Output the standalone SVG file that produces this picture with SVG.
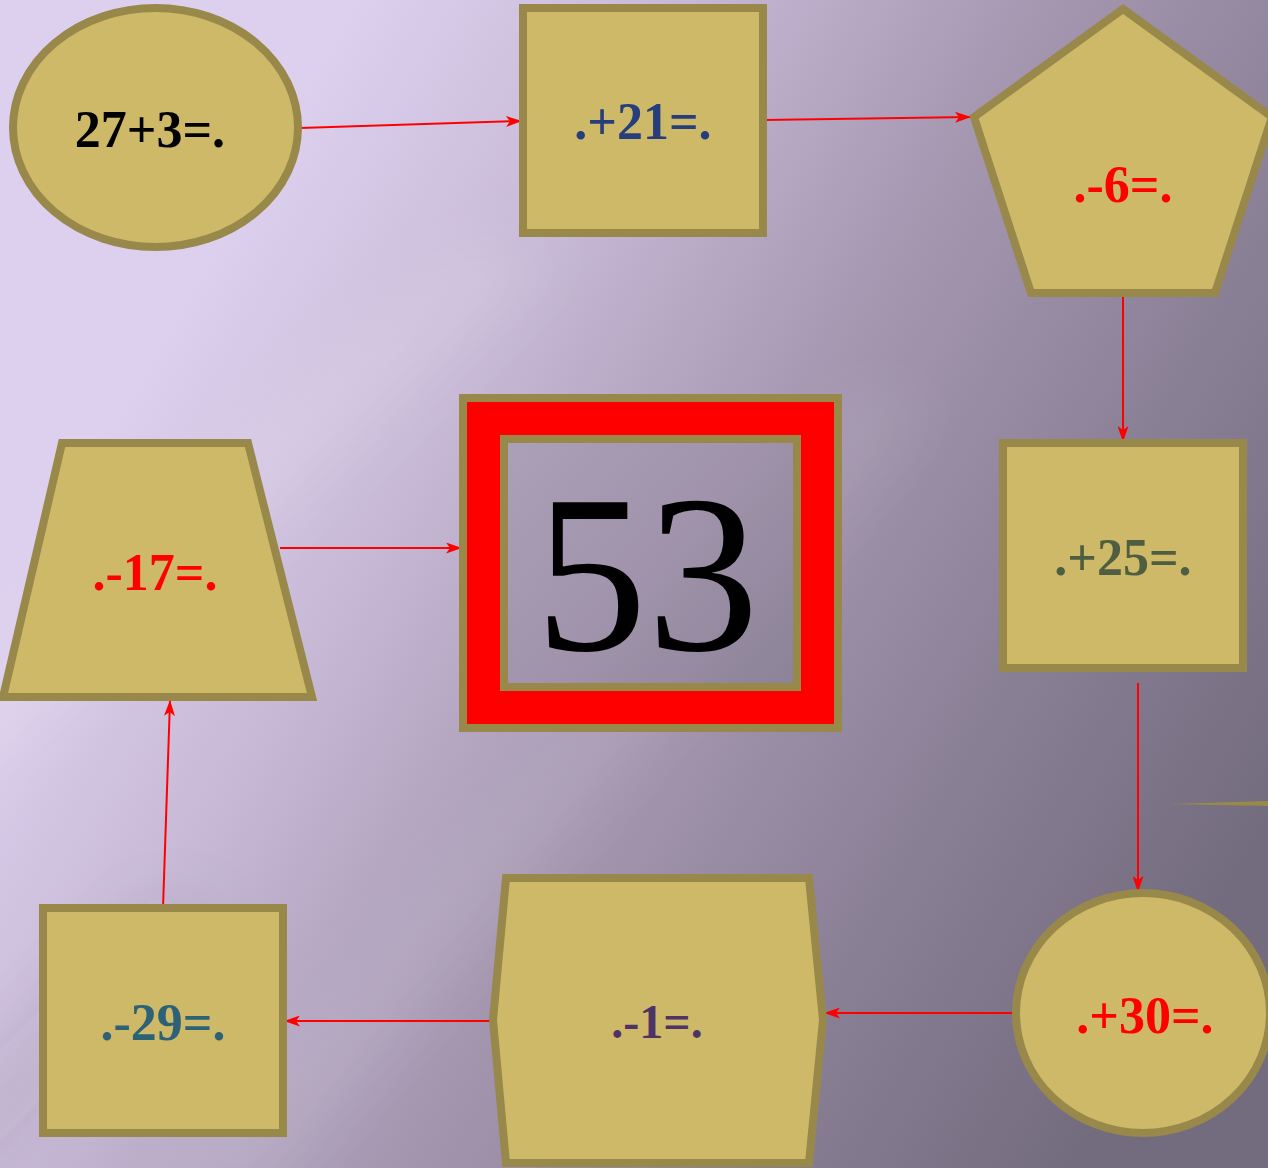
<svg xmlns="http://www.w3.org/2000/svg" width="1268" height="1168" viewBox="0 0 1268 1168">
<defs>
<linearGradient id="bg" gradientUnits="userSpaceOnUse" x1="150" y1="350" x2="1200" y2="950">
<stop offset="0" stop-color="#ddd0ee"/>
<stop offset="0.25" stop-color="#c6b8d5"/>
<stop offset="0.5" stop-color="#a597b0"/>
<stop offset="0.75" stop-color="#8a8096"/>
<stop offset="1" stop-color="#736b7e"/>
</linearGradient>
<linearGradient id="streak" x1="0" y1="0" x2="1" y2="0">
<stop offset="0" stop-color="#ffffff" stop-opacity="0"/>
<stop offset="0.5" stop-color="#ffffff" stop-opacity="0.16"/>
<stop offset="1" stop-color="#ffffff" stop-opacity="0"/>
</linearGradient>
<linearGradient id="inner" gradientUnits="userSpaceOnUse" x1="508" y1="443" x2="793" y2="683">
<stop offset="0" stop-color="#aaa0b8"/>
<stop offset="0.5" stop-color="#a093ab"/>
<stop offset="1" stop-color="#8c8398"/>
</linearGradient>
<filter id="blur" x="-20%" y="-20%" width="140%" height="140%">
<feGaussianBlur stdDeviation="30"/>
</filter>
<marker id="arr" viewBox="0 0 16 11" refX="15" refY="5.5" markerWidth="16" markerHeight="11" markerUnits="userSpaceOnUse" orient="auto">
<path d="M0,0 L16,5.5 L0,11 L4,5.5 Z" fill="#ff0000"/>
</marker>
</defs>
<style>
.shape{fill:#cdb967;stroke:#98884a;stroke-width:8}
.lbl{font-family:"Liberation Serif","Times New Roman",serif;font-weight:bold;font-size:52px;text-anchor:middle}
.conn{stroke:#ff0000;stroke-width:2;fill:none;marker-end:url(#arr)}
</style>
<rect x="0" y="0" width="1268" height="1168" fill="url(#bg)"/>
<g filter="url(#blur)">
<polygon points="-50,700 450,250 560,250 -50,820" fill="#ffffff" opacity="0.12"/>
<polygon points="150,1200 850,400 930,400 260,1200" fill="#ffffff" opacity="0.08"/>
<polygon points="-50,1100 150,900 220,900 -50,1200" fill="#3a3050" opacity="0.08"/>
</g>
<polygon points="1167,804 1268,801 1268,806" fill="#9a8a4a"/>

<g id="connectors">
<line class="conn" x1="300" y1="128" x2="521" y2="121"/>
<line class="conn" x1="764" y1="120" x2="970" y2="117"/>
<line class="conn" x1="1123" y1="297" x2="1123" y2="441"/>
<line class="conn" x1="1138" y1="683" x2="1138" y2="891"/>
<line class="conn" x1="1018" y1="1013" x2="825" y2="1013"/>
<line class="conn" x1="491" y1="1021" x2="285" y2="1021"/>
<line class="conn" x1="163" y1="908" x2="170" y2="701"/>
<line class="conn" x1="280" y1="548" x2="461" y2="548"/>
</g>

<g id="n1">
<ellipse class="shape" cx="155.5" cy="127.5" rx="142.5" ry="119.5"/>
<text class="lbl" x="150" y="147" fill="#000000">27+3=.</text>
</g>
<g id="n2">
<rect class="shape" x="523" y="8" width="240" height="225"/>
<text class="lbl" x="643" y="139" fill="#263f7c">.+21=.</text>
</g>
<g id="n3">
<polygon class="shape" points="1123,9 974,117 1031,293 1215,293 1272,117"/>
<text class="lbl" x="1123" y="202" fill="#ff0000">.-6=.</text>
</g>
<g id="n4">
<rect class="shape" x="1003" y="443" width="240" height="225"/>
<text class="lbl" x="1123" y="575" fill="#4f5e40">.+25=.</text>
</g>
<g id="n5">
<ellipse class="shape" cx="1143" cy="1013" rx="127" ry="120"/>
<text class="lbl" x="1145" y="1033" fill="#ff0000">.+30=.</text>
</g>
<g id="n6">
<polygon class="shape" points="506,878 809,878 823,1020 809,1163 506,1163 493,1020"/>
<text class="lbl" x="657" y="1038" fill="#4d3366" style="font-size:48px">.-1=.</text>
</g>
<g id="n7">
<rect class="shape" x="43" y="908" width="240" height="225"/>
<text class="lbl" x="163" y="1040" fill="#2d6276">.-29=.</text>
</g>
<g id="n8">
<polygon class="shape" points="62,443 248,443 312,697 3,697"/>
<text class="lbl" x="155" y="590" fill="#ff0000">.-17=.</text>
</g>
<g id="n9">
<rect x="463" y="398" width="375" height="330" fill="#ff0000" stroke="#98884a" stroke-width="8"/>
<rect x="504" y="439" width="293" height="248" fill="url(#inner)" stroke="#98884a" stroke-width="8"/>
<text x="647" y="650" font-family="'Liberation Serif','Times New Roman',serif" font-size="224" text-anchor="middle" fill="#000000">53</text>
</g>
</svg>
